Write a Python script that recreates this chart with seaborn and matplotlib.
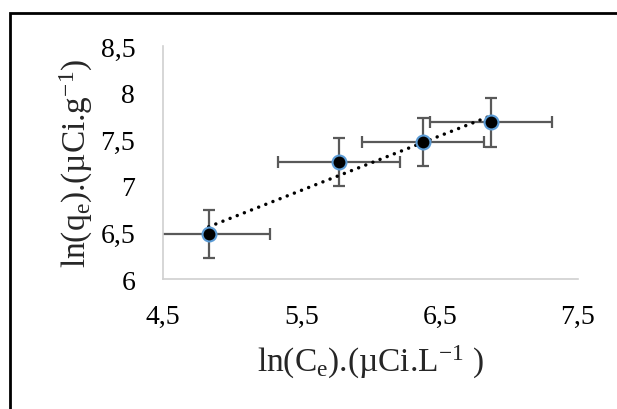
import numpy as np
import pandas as pd
import matplotlib
matplotlib.use("Agg")
import matplotlib.pyplot as plt
import seaborn as sns
from matplotlib.ticker import FuncFormatter
from matplotlib.patches import Rectangle

ln_ce = [4.83, 5.77, 6.38, 6.87]
ln_qe = [6.48, 7.255, 7.47, 7.68]
x_err = [0.44, 0.44, 0.44, 0.44]
y_err = [0.26, 0.26, 0.26, 0.26]
x_ticks = [4.5, 5.5, 6.5, 7.5]
y_ticks = [6, 6.5, 7, 7.5, 8, 8.5]

df = pd.DataFrame({"x": ln_ce, "y": ln_qe})

sns.set_style("white")
plt.rcParams["font.family"] = ["Liberation Serif", "DejaVu Serif"]
plt.rcParams["mathtext.fontset"] = "custom"
plt.rcParams["mathtext.rm"] = "Liberation Serif"
plt.rcParams["mathtext.it"] = "Liberation Serif"

fig = plt.figure(figsize=(6.17, 4.10), dpi=100)
ax = fig.add_axes([163/617, 1-280/410, (578-163)/617, (280-47)/410])

ax.errorbar(ln_ce, ln_qe, xerr=x_err, yerr=y_err, fmt="none",
            ecolor="#595959", elinewidth=1.6, capsize=4.5, capthick=1.6, zorder=2)
sns.regplot(data=df, x="x", y="y", ax=ax, scatter=False, ci=None, truncate=True,
            line_kws=dict(color="black", lw=2.5, linestyle=(0, (0.01, 2.2)),
                          dash_capstyle="round", zorder=3))
sns.scatterplot(data=df, x="x", y="y", ax=ax, color="black", s=100,
                edgecolor="#5b9bd5", linewidth=1.5, zorder=4)

ax.set_xlim(4.5, 7.5)
ax.set_ylim(6, 8.5)
ax.set_xticks(x_ticks)
ax.set_yticks(y_ticks)
fmt = FuncFormatter(lambda v, p: ("%g" % v).replace(".", ","))
ax.xaxis.set_major_formatter(fmt)
ax.yaxis.set_major_formatter(fmt)
ax.tick_params(axis="both", labelsize=20, length=0, colors="black")
ax.tick_params(axis="x", pad=18)
ax.tick_params(axis="y", pad=20)
for s in ["top", "right"]:
    ax.spines[s].set_visible(False)
for s in ["left", "bottom"]:
    ax.spines[s].set_color("#d0d0d0")
    ax.spines[s].set_linewidth(1.2)

ax.set_xlabel(r"ln(C$_\mathregular{e}$).(µCi.L$^\mathregular{-1}$ )", fontsize=24, labelpad=10)
ax.set_ylabel(r"ln(q$_\mathregular{e}$).(µCi.g$^\mathregular{-1}$)", fontsize=24, labelpad=4)

fig.patches.append(Rectangle((10/617, -0.2), 1.2, 0.2 + (410-14)/410,
                             transform=fig.transFigure, fill=False,
                             edgecolor="black", linewidth=2, zorder=0))

fig.savefig("out.png", dpi=100)
